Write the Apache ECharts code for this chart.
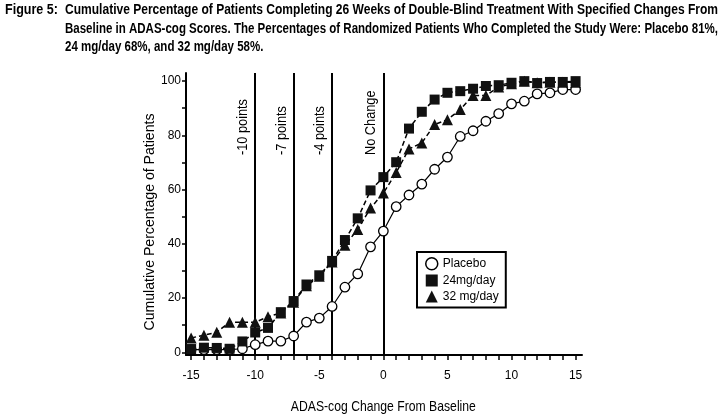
<!DOCTYPE html>
<html><head><meta charset="utf-8">
<script src="https://cdn.jsdelivr.net/npm/echarts@6/dist/echarts.min.js"></script>
<style>html,body{margin:0;padding:0;background:#fff}#c{width:724px;height:418px}</style>
</head><body><div id="c"></div>
<script>
// ---- data ----
const xValues = [-15,-14,-13,-12,-11,-10,-9,-8,-7,-6,-5,-4,-3,-2,-1,0,1,2,3,4,5,6,7,8,9,10,11,12,13,14,15];
const placebo = [1.0,1.0,1.0,1.0,1.3,2.8,4.1,4.1,6.0,11.1,12.6,16.9,24.0,28.9,38.9,44.7,53.7,58.0,62.0,67.5,72.0,79.6,81.7,85.2,88.0,91.6,92.6,95.3,95.7,96.9,96.9];
const mg24 = [1.2,1.7,1.6,1.3,4.0,7.3,9.0,14.8,18.9,25.0,28.4,33.7,41.4,49.4,59.7,64.6,70.1,82.5,88.7,93.2,95.7,96.3,97.2,98.2,98.5,99.4,100,99.3,99.7,99.7,100];
const mg32 = [5.3,6.3,7.4,11.1,11.1,11.1,13.1,14.5,18.5,24.5,28.0,33.3,39.5,45.3,53.2,58.7,66.3,75.0,77.2,84.0,85.8,89.5,94.7,94.7,97.8,99.0,100,99.4,99.6,99.6,99.6];
const seriesNames = ['Placebo','24mg/day','32 mg/day'];
const refLines = [-10,-7,-4,0];
const refLabels = ['-10 points','-7 points','-4 points','No Change'];
const titleLines = [
  'Cumulative Percentage of Patients Completing 26 Weeks of Double-Blind Treatment With Specified Changes From',
  'Baseline in ADAS-cog Scores. The Percentages of Randomized Patients Who Completed the Study Were: Placebo 81%,',
  '24 mg/day 68%, and 32 mg/day 58%.'
];
const figLabel = 'Figure 5:';
const xName = 'ADAS-cog Change From Baseline';
const yName = 'Cumulative Percentage of Patients';

// ---- layout ----
const FONT = '"Liberation Sans",Arial,sans-serif';
const W = 724, H = 418;
const X_MIN = -15.4, X_MAX = 15.5, Y_MIN = -1, Y_MAX = 103;
const G = {left: 186, right: 142, top: 73, bottom: 63};
const kx = (W - G.left - G.right) / (X_MAX - X_MIN);
const ky = (H - G.top - G.bottom) / (Y_MAX - Y_MIN);
const G1 = {
  left: G.left + (-15 - X_MIN) * kx,
  right: G.right + (X_MAX - 15) * kx,
  top: G.top + (Y_MAX - 100) * ky,
  bottom: G.bottom + (0 - Y_MIN) * ky
};

const measure = (() => {
  const ctx = document.createElement('canvas').getContext('2d');
  return (text, font) => { ctx.font = font; return ctx.measureText(text).width; };
})();

const pts = arr => xValues.map((x, i) => [x, arr[i]]);

const chart = echarts.init(document.getElementById('c'), null, {renderer: 'canvas'});
const option = {
  animation: false,
  backgroundColor: '#fff',
  textStyle: {fontFamily: FONT},
  grid: [
    {left: G.left, right: G.right, top: G.top, bottom: G.bottom, containLabel: false},
    {left: G1.left, right: G1.right, top: G1.top, bottom: G1.bottom, containLabel: false}
  ],
  xAxis: [
    {gridIndex: 0, type: 'value', min: X_MIN, max: X_MAX,
     axisLine: {show: true, onZero: false, lineStyle: {color: '#000', width: 2}},
     axisTick: {show: false}, axisLabel: {show: false}, splitLine: {show: false}},
    {gridIndex: 1, type: 'value', min: -15, max: 15, interval: 1,
     offset: (0 - Y_MIN) * ky,
     axisLine: {show: false, onZero: false},
     axisTick: {show: true, length: 5, lineStyle: {color: '#000', width: 1.5}},
     axisLabel: {show: true, margin: 15, color: '#000', fontSize: 12, fontFamily: FONT,
       formatter: v => (v % 5 === 0 ? String(v) : '')},
     splitLine: {show: false}}
  ],
  yAxis: [
    {gridIndex: 0, type: 'value', min: Y_MIN, max: Y_MAX,
     axisLine: {show: true, onZero: false, lineStyle: {color: '#000', width: 2}},
     axisTick: {show: false}, axisLabel: {show: false}, splitLine: {show: false}},
    {gridIndex: 1, type: 'value', min: 0, max: 100, interval: 10,
     offset: (-15 - X_MIN) * kx,
     axisLine: {show: false, onZero: false},
     axisTick: {show: true, length: 4, lineStyle: {color: '#000', width: 1.5}},
     axisLabel: {show: true, margin: 5, color: '#000', fontSize: 12, fontFamily: FONT,
       formatter: v => (v % 20 === 0 ? String(v) : '')},
     splitLine: {show: false}}
  ],
  legend: {
    orient: 'vertical', left: 417, top: 252,
    borderColor: '#000', borderWidth: 2, borderRadius: 0,
    padding: [5, 7, 5, 8], itemGap: 4, itemWidth: 12, itemHeight: 12,
    textStyle: {color: '#000', fontSize: 12, fontFamily: FONT},
    data: [
      {name: seriesNames[0], icon: 'circle', itemStyle: {color: '#fff', borderColor: '#000', borderWidth: 1.5}},
      {name: seriesNames[1], icon: 'rect', itemStyle: {color: '#111', borderWidth: 0}},
      {name: seriesNames[2], icon: 'triangle', itemStyle: {color: '#111', borderWidth: 0}}
    ]
  },
  series: [
    {name: seriesNames[0], type: 'line', xAxisIndex: 0, yAxisIndex: 0, data: pts(placebo),
     symbol: 'circle', symbolSize: 9.5, z: 2,
     lineStyle: {color: '#000', width: 1.2, type: 'solid'},
     itemStyle: {color: '#fff', borderColor: '#000', borderWidth: 1.3},
     markLine: {
       silent: true, symbol: 'none', z: 1,
       lineStyle: {color: '#000', width: 2, type: 'solid'},
       label: {show: false},
       data: refLines.map((v, i) => ({name: refLabels[i], xAxis: v}))
     }},
    {name: seriesNames[2], type: 'line', xAxisIndex: 0, yAxisIndex: 0, data: pts(mg32),
     symbol: 'triangle', symbolSize: 11, z: 3,
     lineStyle: {color: '#000', width: 1.5, type: [5, 3]},
     itemStyle: {color: '#111', borderWidth: 0}},
    {name: seriesNames[1], type: 'line', xAxisIndex: 0, yAxisIndex: 0, data: pts(mg24),
     symbol: 'rect', symbolSize: 10, z: 4,
     lineStyle: {color: '#000', width: 1.5, type: [5, 3]},
     itemStyle: {color: '#111', borderWidth: 0}}
  ]
};
chart.setOption(option);

// ---- texts (condensed by horizontal scaling) ----
const TF = 'bold 14px ' + FONT;
const titleTargets = [653, 653];
const s1 = titleTargets[0] / measure(titleLines[0], TF);
const s2 = titleTargets[1] / measure(titleLines[1], TF);
const titleScales = [s1, s2, s2];
const titleY = [10, 29, 47.5];
const figScale = 53 / measure(figLabel, TF);
const graphics = [
  {type: 'text', x: 5, y: titleY[0], scaleX: figScale,
   style: {text: figLabel, font: TF, fill: '#000', verticalAlign: 'middle'}},
  ...titleLines.map((t, i) => ({type: 'text', x: 65, y: titleY[i], scaleX: titleScales[i],
    style: {text: t, font: TF, fill: '#000', verticalAlign: 'middle'}}))
];
// axis names
const NF = '15px ' + FONT;
const xMid = chart.convertToPixel({gridIndex: 0}, [0, 0])[0];
graphics.push({type: 'text', x: xMid, y: 407, scaleX: 185 / measure(xName, NF),
  style: {text: xName, font: NF, fill: '#000', align: 'center', verticalAlign: 'middle'}});
graphics.push({type: 'text', x: 150, y: 222, rotation: Math.PI / 2, scaleX: 217 / measure(yName, NF),
  style: {text: yName, font: NF, fill: '#000', align: 'center', verticalAlign: 'middle'}});
// reference line labels
refLines.forEach((v, i) => {
  const p = chart.convertToPixel({gridIndex: 0}, [v, 0]);
  graphics.push({type: 'text', x: p[0] - 12, y: 155, rotation: Math.PI / 2, scaleX: 0.85,
    style: {text: refLabels[i], font: NF, fill: '#000', align: 'left', verticalAlign: 'middle'}});
});
chart.setOption({graphic: graphics});
</script>
</body></html>
